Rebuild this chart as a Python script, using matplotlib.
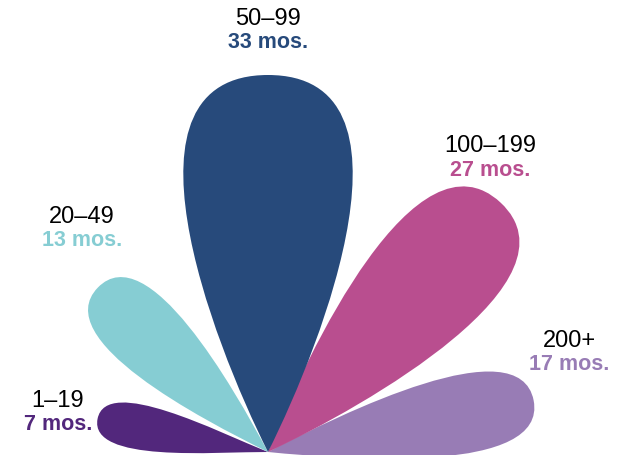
import numpy as np
import matplotlib
matplotlib.use("Agg")
import matplotlib.pyplot as plt
from matplotlib.path import Path
from matplotlib.patches import PathPatch

# Months spent by fleet-size band
bands = ["1–19", "20–49", "50–99", "100–199", "200+"]
months = [7, 13, 33, 27, 17]

# Styling for each petal
colors = ["#52277c", "#86cdd3", "#274a7b", "#b94e8f", "#987cb5"]
angles_deg = [169, 136, 90, 47, 11]          # petal direction, degrees from +x
neck_scale = [0.38, 0.64, 1.0, 0.80, 0.60]    # fatness near the stem
bulb_scale = [0.62, 0.72, 1.0, 0.80, 0.66]    # fatness of the rounded end
label_pos = [(58, 407), (82, 223), (268, 25), (490, 152), (569, 347)]  # baseline of band text
draw_order = [0, 1, 4, 3, 2]

ORIGIN = (268.0, 452.0)
MAX_LEN = 377.0

fig = plt.figure(figsize=(6.21, 4.55), dpi=100)
ax = fig.add_axes([0, 0, 1, 1])
ax.set_xlim(0, 621)
ax.set_ylim(455, 0)
ax.set_aspect("equal")
ax.axis("off")


def petal_path(length, angle_deg, neck, bulb):
    """Teardrop with its point at ORIGIN, built from two cubic Beziers."""
    a, b, c = 0.30, 0.15 * neck, 0.42 * bulb
    local = np.array([
        [0, 0],
        [a, b], [1, c], [1, 0],
        [1, -c], [a, -b], [0, 0],
    ]) * length
    th = np.deg2rad(angle_deg)
    d = np.array([np.cos(th), -np.sin(th)])   # screen y points down
    n = np.array([np.sin(th), np.cos(th)])
    pts = np.array(ORIGIN) + local[:, :1] * d + local[:, 1:] * n
    codes = [Path.MOVETO] + [Path.CURVE4] * 6
    return Path(pts, codes)


vmax = max(months)
for i in draw_order:
    length = MAX_LEN * np.sqrt(months[i] / vmax)
    path = petal_path(length, angles_deg[i], neck_scale[i], bulb_scale[i])
    ax.add_patch(PathPatch(path, facecolor=colors[i], edgecolor="none"))

for i in range(len(bands)):
    x, y = label_pos[i]
    ax.text(x, y, bands[i], ha="center", va="baseline", color="black",
            fontsize=17, family="Liberation Sans")
    ax.text(x, y + 23.5, f"{months[i]} mos.", ha="center", va="baseline",
            color=colors[i], fontsize=15.5, fontweight="bold",
            family="Liberation Sans")

fig.savefig("out.png", dpi=100)
